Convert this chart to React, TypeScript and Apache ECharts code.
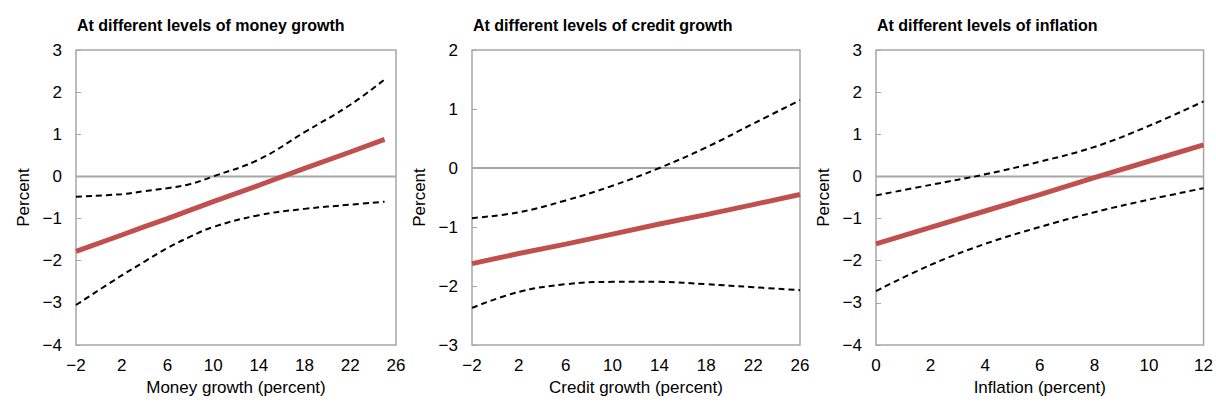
import React, { useEffect, useRef } from "react";
import * as echarts from "echarts";

const titles = ["At different levels of money growth", "At different levels of credit growth", "At different levels of inflation"];
const xNames = ["Money growth (percent)", "Credit growth (percent)", "Inflation (percent)"];

const moneyX = [-2, 2, 4, 6, 8, 10, 14, 18, 22, 25];
const moneyMid = [-1.78, -1.39, -1.19, -1.0, -0.8, -0.6, -0.21, 0.19, 0.58, 0.88];
const moneyUp = [-0.48, -0.42, -0.35, -0.28, -0.18, 0.0, 0.4, 1.05, 1.7, 2.3];
const moneyLo = [-3.05, -2.35, -2.02, -1.7, -1.43, -1.2, -0.92, -0.77, -0.67, -0.6];

const creditX = [-2, 2, 6, 10, 14, 18, 22, 26];
const creditMid = [-1.62, -1.45, -1.29, -1.12, -0.95, -0.79, -0.62, -0.45];
const creditUp = [-0.85, -0.75, -0.55, -0.3, 0.0, 0.35, 0.75, 1.15];
const creditLo = [-2.37, -2.1, -1.97, -1.93, -1.93, -1.97, -2.02, -2.07];

const inflX = [0, 2, 4, 6, 8, 10, 12];
const inflMid = [-1.6, -1.21, -0.82, -0.43, -0.03, 0.36, 0.75];
const inflUp = [-0.45, -0.2, 0.05, 0.35, 0.7, 1.2, 1.78];
const inflLo = [-2.72, -2.1, -1.6, -1.2, -0.85, -0.55, -0.28];

const panels = [
  { x: moneyX, mid: moneyMid, up: moneyUp, lo: moneyLo, xmin: -2, xmax: 26, xint: 4, ymin: -4, ymax: 3, left: 76, right: 396 },
  { x: creditX, mid: creditMid, up: creditUp, lo: creditLo, xmin: -2, xmax: 26, xint: 4, ymin: -3, ymax: 2, left: 472, right: 800 },
  { x: inflX, mid: inflMid, up: inflUp, lo: inflLo, xmin: 0, xmax: 12, xint: 2, ymin: -4, ymax: 3, left: 876, right: 1205 },
];

const font = "'Liberation Sans Narrow', 'Arial Narrow', 'Liberation Sans', Arial, sans-serif";
const zip = (xs: number[], ys: number[]) => xs.map((x, i) => [x, ys[i]]);
const fmt = (v: number) => String(v).replace("-", "\u2212");

export default function App() {
  const ref = useRef<HTMLDivElement>(null);
  useEffect(() => {
    const chart = echarts.init(ref.current!, null, { renderer: "svg" });
    const grids: any[] = [], xAxes: any[] = [], yAxes: any[] = [], series: any[] = [], titleArr: any[] = [];
    panels.forEach((p, i) => {
      grids.push({ left: p.left, width: p.right - p.left, top: 50, height: 295, show: true, borderColor: "#a6a6a6", borderWidth: 1.5 });
      titleArr.push({ text: titles[i], left: p.left - 4, top: 12, textStyle: { fontFamily: font, fontSize: 16, fontWeight: "bold", color: "#000" } });
      xAxes.push({
        type: "value", gridIndex: i, min: p.xmin, max: p.xmax, interval: p.xint,
        name: xNames[i], nameLocation: "middle", nameGap: 34,
        nameTextStyle: { fontFamily: font, fontSize: 17, color: "#000" },
        axisLine: { show: false, onZero: false }, axisTick: { show: false }, splitLine: { show: false },
        axisLabel: { fontFamily: font, fontSize: 17, color: "#000", margin: 12, formatter: fmt },
      });
      yAxes.push({
        type: "value", gridIndex: i, min: p.ymin, max: p.ymax, interval: 1,
        name: "Percent", nameLocation: "middle", nameGap: 44,
        nameTextStyle: { fontFamily: font, fontSize: 17, color: "#000" },
        axisLine: { show: false, onZero: false }, axisTick: { show: true, inside: true, length: 5, lineStyle: { color: "#a6a6a6" } }, splitLine: { show: false },
        axisLabel: { fontFamily: font, fontSize: 17, color: "#000", margin: 14, formatter: fmt },
      });
      series.push({
        type: "line", xAxisIndex: i, yAxisIndex: i, data: [[p.xmin, 0], [p.xmax, 0]], symbol: "none", silent: true,
        lineStyle: { color: "#a6a6a6", width: 2 },
      });
      series.push({ type: "line", xAxisIndex: i, yAxisIndex: i, data: zip(p.x, p.up), symbol: "none", smooth: 0.4, lineStyle: { color: "#000", width: 2, type: [6, 4] } });
      series.push({ type: "line", xAxisIndex: i, yAxisIndex: i, data: zip(p.x, p.lo), symbol: "none", smooth: 0.4, lineStyle: { color: "#000", width: 2, type: [6, 4] } });
      series.push({ type: "line", xAxisIndex: i, yAxisIndex: i, data: zip(p.x, p.mid), symbol: "none", lineStyle: { color: "#c0504d", width: 5 } });
    });
    chart.setOption({ animation: false, backgroundColor: "#fff", title: titleArr, grid: grids, xAxis: xAxes, yAxis: yAxes, series });
    return () => chart.dispose();
  }, []);
  return <div ref={ref} style={{ width: 1216, height: 406, position: "absolute", left: 0, top: 0 }} />;
}
